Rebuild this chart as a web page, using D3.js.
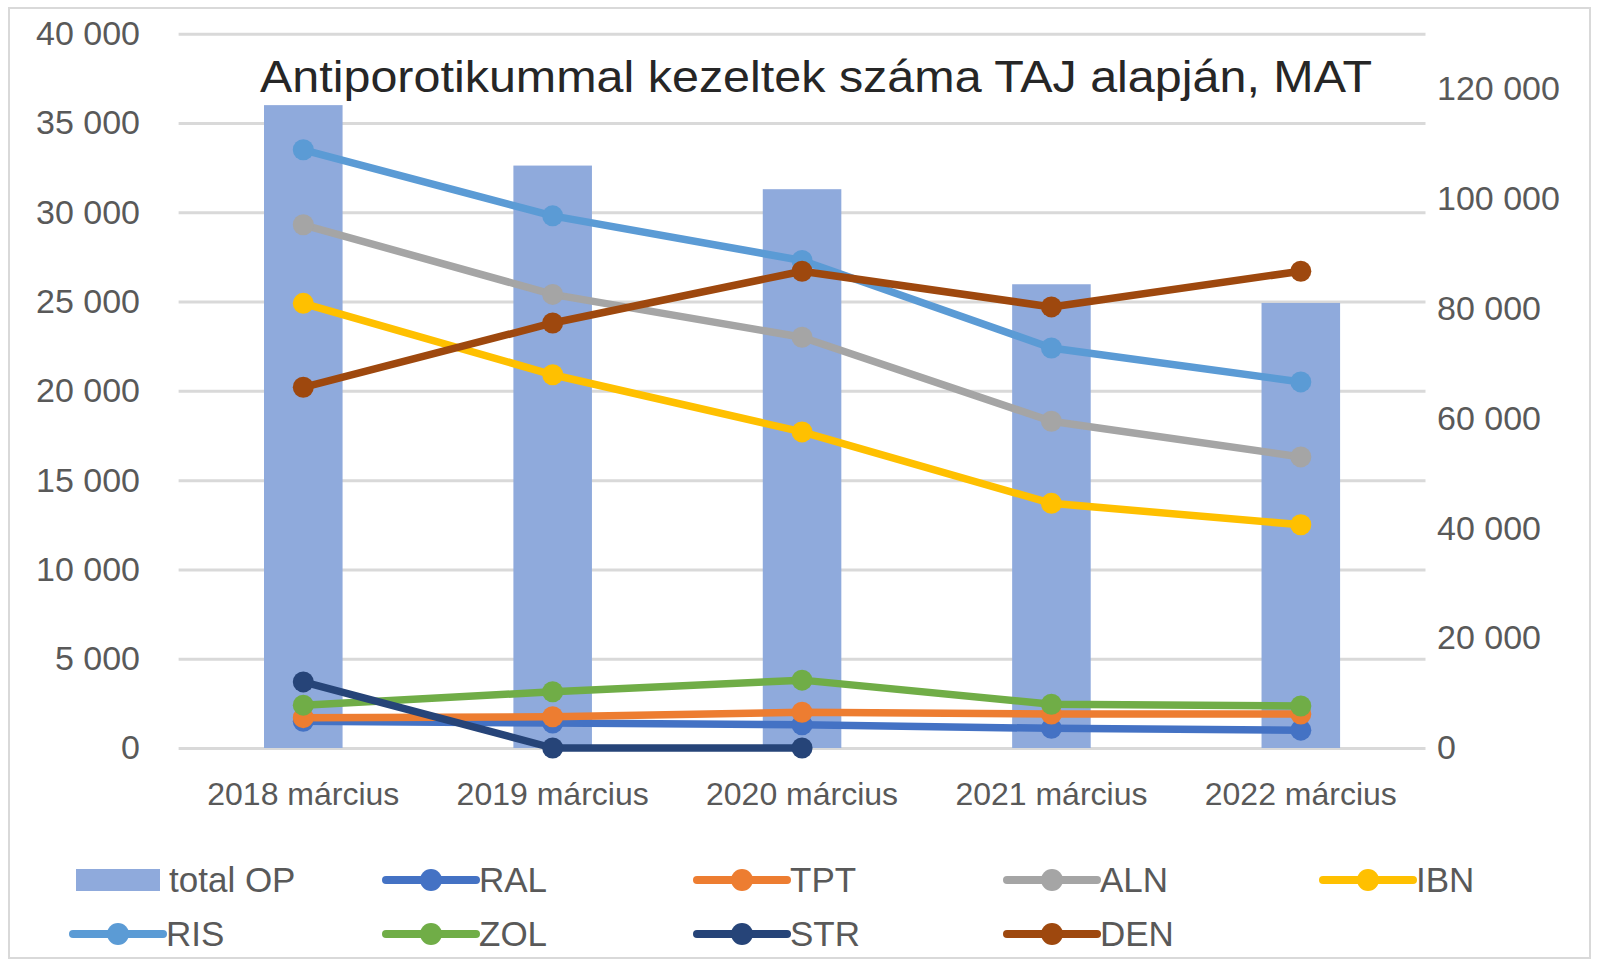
<!DOCTYPE html>
<html>
<head>
<meta charset="utf-8">
<script src="https://cdn.jsdelivr.net/npm/d3@7"></script>
<style>
  html, body { margin: 0; padding: 0; background: #fff; }
  svg { display: block; }
</style>
</head>
<body>
<svg id="chart" width="1600" height="967"></svg>
<script>
const categories = ["2018 március", "2019 március", "2020 március", "2021 március", "2022 március"];
const totalOP = [117000, 106000, 101700, 84400, 81000];
const RAL = [1500, 1400, 1300, 1100, 1000];
const TPT = [1700, 1750, 2000, 1900, 1900];
const ALN = [29300, 25400, 23000, 18300, 16300];
const IBN = [24900, 20900, 17700, 13700, 12500];
const RIS = [33500, 29800, 27300, 22400, 20500];
const ZOL = [2400, 3150, 3800, 2450, 2350];
const STR = [3700, 0, 0, null, null];
const DEN = [20200, 23800, 26700, 24700, 26700];
const leftTicks = [0, 5000, 10000, 15000, 20000, 25000, 30000, 35000, 40000];
const rightTicks = [0, 20000, 40000, 60000, 80000, 100000, 120000];
const titleText = "Antiporotikummal kezeltek száma TAJ alapján, MAT";

const lineSeries = [
  {name: "RAL", values: RAL, color: "#4472C4"},
  {name: "TPT", values: TPT, color: "#ED7D31"},
  {name: "ALN", values: ALN, color: "#A5A5A5"},
  {name: "IBN", values: IBN, color: "#FFC000"},
  {name: "RIS", values: RIS, color: "#5B9BD5"},
  {name: "ZOL", values: ZOL, color: "#70AD47"},
  {name: "STR", values: STR, color: "#264478"},
  {name: "DEN", values: DEN, color: "#9E480E"}
];
const barColor = "#8FAADC";

const svg = d3.select("#chart");
const fmt = v => d3.format(",")(v).replace(/,/g, "\u00a0");
const FONT = "Liberation Sans, Arial, sans-serif";

// border
svg.append("rect").attr("x", 9).attr("y", 8).attr("width", 1581).attr("height", 950)
  .attr("fill", "#fff").attr("stroke", "#d9d9d9").attr("stroke-width", 2);

const plotLeft = 178.6, plotRight = 1425.5, plotTop = 33.7, plotBottom = 748;
const x = d3.scaleBand().domain(categories).range([plotLeft, plotRight]).padding(0);
const cx = c => x(c) + x.bandwidth() / 2;
const yL = d3.scaleLinear().domain([0, 40000]).range([plotBottom, plotTop]);
const yR = d3.scaleLinear().domain([0, 130000]).range([plotBottom, plotTop]);

// gridlines
const grid = svg.append("g").attr("transform", `translate(${plotLeft},0)`)
  .call(d3.axisLeft(yL).tickValues(leftTicks).tickSize(-(plotRight - plotLeft)).tickFormat(""));
grid.select(".domain").remove();
grid.selectAll("line").attr("stroke", "#d9d9d9").attr("stroke-width", 3);

// left axis labels
const gl = svg.append("g").attr("transform", `translate(140,0)`)
  .call(d3.axisLeft(yL).tickValues(leftTicks).tickSize(0).tickPadding(0).tickFormat(fmt));
gl.select(".domain").remove();
gl.selectAll("text").attr("font-family", FONT).attr("font-size", 34).attr("fill", "#595959");

// right axis labels
const gr = svg.append("g").attr("transform", `translate(1437,0)`)
  .call(d3.axisRight(yR).tickValues(rightTicks).tickSize(0).tickPadding(0).tickFormat(fmt));
gr.select(".domain").remove();
gr.selectAll("text").attr("font-family", FONT).attr("font-size", 34).attr("fill", "#595959");

// x axis labels
const gx = svg.append("g").attr("transform", `translate(0,${plotBottom})`)
  .call(d3.axisBottom(x).tickSize(0).tickPadding(34));
gx.select(".domain").remove();
gx.selectAll("text").attr("font-family", FONT).attr("font-size", 32).attr("fill", "#595959");

// bars
const barW = x.bandwidth() * 0.315;
svg.append("g").selectAll("rect").data(categories).join("rect")
  .attr("x", c => cx(c) - barW / 2)
  .attr("y", (c, i) => yR(totalOP[i]))
  .attr("width", barW)
  .attr("height", (c, i) => yR(0) - yR(totalOP[i]))
  .attr("fill", barColor);

// title
svg.append("text").attr("x", 816).attr("y", 92).attr("text-anchor", "middle")
  .attr("font-family", FONT).attr("font-size", 45)
  .attr("fill", "#262626")
  .attr("textLength", 1112).attr("lengthAdjust", "spacingAndGlyphs")
  .text(titleText);

// lines
const line = d3.line().defined(d => d.v != null).x(d => cx(d.c)).y(d => yL(d.v));
lineSeries.forEach(s => {
  const pts = categories.map((c, i) => ({c, v: s.values[i]}));
  const g = svg.append("g");
  g.append("path").datum(pts).attr("d", line).attr("fill", "none")
    .attr("stroke", s.color).attr("stroke-width", 7.5).attr("stroke-linejoin", "round").attr("stroke-linecap", "round");
  g.selectAll("circle").data(pts.filter(d => d.v != null)).join("circle")
    .attr("cx", d => cx(d.c)).attr("cy", d => yL(d.v)).attr("r", 10.5).attr("fill", s.color);
});

// legend
const legendItems = [{name: "total OP", color: barColor, bar: true}].concat(lineSeries);
const colX = [76, 386, 697, 1007, 1323];
const rowY = [880, 934];
const leg = svg.append("g");
legendItems.forEach((it, i) => {
  const row = Math.floor(i / 5), col = i % 5;
  const x0 = colX[col] - (row === 1 && col === 0 ? 3 : 0), y0 = rowY[row];
  const g = leg.append("g");
  if (it.bar) {
    g.append("rect").attr("x", x0).attr("y", y0 - 11).attr("width", 84).attr("height", 22).attr("fill", it.color);
  } else {
    g.append("line").attr("x1", x0).attr("x2", x0 + 90).attr("y1", y0).attr("y2", y0)
      .attr("stroke", it.color).attr("stroke-width", 8).attr("stroke-linecap", "round");
    g.append("circle").attr("cx", x0 + 45).attr("cy", y0).attr("r", 11).attr("fill", it.color);
  }
  g.append("text").attr("x", x0 + 93).attr("y", y0).attr("dy", "0.35em")
    .attr("font-family", FONT).attr("font-size", 35).attr("fill", "#595959").text(it.name);
});
</script>
</body>
</html>
